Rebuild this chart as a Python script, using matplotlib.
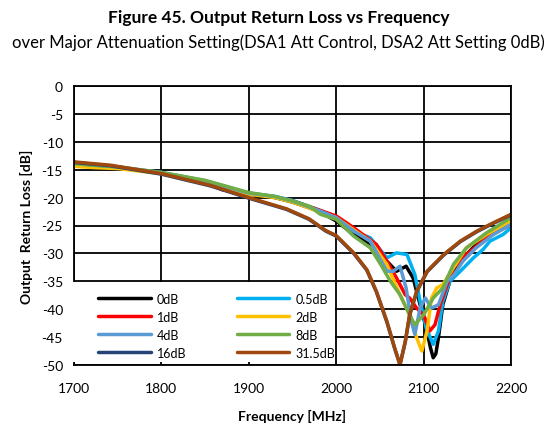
import matplotlib
matplotlib.use("Agg")
import matplotlib.pyplot as plt
from matplotlib.patches import Rectangle

plt.rcParams['font.family'] = ['Lato', 'DejaVu Sans']
plt.rcParams['axes.unicode_minus'] = False

labels = ["0dB", "0.5dB", "1dB", "2dB", "4dB", "8dB", "16dB", "31.5dB"]
colors = ["#000000", "#00B0F0", "#FF0000", "#FFC000", "#5B9BD5", "#70AD47", "#264478", "#9E480E"]

f_0dB = [1700,1720,1750,1800,1850,1870,1885,1900,1930,1950,1980,2000,2020,2044,2058,2069,2080,2088,2096,2103,2108,2111,2114,2117,2122,2130,2138,2149,2164,2183,2200]
v_0dB = [-14.0,-14.3,-14.6,-15.6,-17.2,-18.6,-18.8,-19.4,-20.0,-20.8,-22.4,-24.2,-26.6,-28.7,-31.4,-33.2,-32.3,-34.4,-39.2,-43.4,-47,-48.7,-48,-45.1,-39.2,-35,-32.6,-30.2,-27.8,-26,-24.8]

f_05dB = [1700,1720,1750,1800,1850,1900,1930,1950,1980,2000,2020,2039,2058,2069,2081,2090,2096,2103,2111,2117,2122,2130,2142,2157,2168,2176,2191,2200]
v_05dB = [-13.9,-14.2,-14.6,-15.5,-17.0,-19.2,-19.8,-20.5,-22.2,-23.6,-26,-27.2,-30.8,-29.9,-30.2,-33.8,-38.6,-43.4,-46.3,-43.9,-38.6,-35,-33.2,-30.8,-29.3,-27.8,-26.6,-25.4]

f_1dB = [1700,1720,1750,1800,1850,1900,1930,1950,1980,2000,2005,2020,2046,2058,2069,2079,2084,2092,2100,2107,2113,2119,2127,2134,2149,2172,2200]
v_1dB = [-14.0,-14.3,-14.6,-15.6,-17.1,-19.3,-19.9,-20.6,-22.2,-23.3,-23.8,-25.4,-28.4,-31.4,-34.4,-37.4,-38,-39.8,-41,-43.9,-42.8,-39.2,-35.6,-32.6,-30.2,-27.2,-24.8]

f_2dB = [1700,1720,1750,1800,1850,1900,1930,1950,1980,2000,2020,2039,2058,2073,2084,2092,2098,2104,2109,2115,2122,2134,2149,2172,2200]
v_2dB = [-14.4,-14.6,-14.8,-15.7,-17.2,-19.4,-20.0,-20.8,-22.5,-23.6,-25.8,-27.8,-32,-37.4,-41,-45.1,-47.5,-43.9,-38,-36.2,-35.6,-32.6,-29,-26.6,-24.2]

f_4dB = [1700,1720,1750,1800,1850,1900,1930,1950,1980,2000,2020,2039,2058,2065,2073,2080,2086,2090,2096,2102,2109,2117,2127,2134,2145,2160,2180,2200]
v_4dB = [-13.8,-14.1,-14.5,-15.5,-17.0,-19.2,-19.8,-20.6,-22.3,-23.6,-26,-27.8,-33.2,-33.2,-32.3,-36.2,-42.2,-44.5,-39.8,-38,-39.8,-39.2,-35,-34,-31.4,-29,-26.6,-24.8]

f_8dB = [1700,1720,1750,1800,1850,1900,1930,1950,1970,1982,2000,2020,2039,2051,2062,2073,2082,2090,2100,2111,2122,2134,2149,2172,2200]
v_8dB = [-13.9,-14.2,-14.5,-15.5,-16.9,-19.1,-19.8,-20.6,-21.6,-23.0,-23.9,-26.9,-29,-32,-35,-37.4,-40.4,-42.8,-41,-38,-36.2,-32,-29,-26.3,-23.6]

f_16dB = [1700,1742,1800,1856,1900,1943,1969,1988,2000,2020,2035,2046,2058,2067,2073,2079,2084,2092,2104,2123,2142,2161,2180,2200]
v_16dB = [-13.7,-14.3,-15.8,-17.9,-20.1,-22.1,-23.9,-26.0,-26.9,-30.0,-33.0,-36.9,-42.3,-47.1,-49.9,-45.9,-41.1,-36.9,-33.3,-30.3,-27.9,-26.1,-24.6,-23.1]

f_315dB = [1700,1742,1800,1856,1900,1943,1969,1988,2000,2020,2035,2046,2058,2067,2073,2079,2084,2092,2104,2123,2142,2161,2180,2200]
v_315dB = [-13.6,-14.2,-15.7,-17.8,-20.0,-22.0,-23.8,-25.9,-26.8,-29.9,-32.9,-36.8,-42.2,-47,-50,-45.8,-41,-36.8,-33.2,-30.2,-27.8,-26,-24.5,-23]

series_f = [f_0dB, f_05dB, f_1dB, f_2dB, f_4dB, f_8dB, f_16dB, f_315dB]
series_v = [v_0dB, v_05dB, v_1dB, v_2dB, v_4dB, v_8dB, v_16dB, v_315dB]

x_ticks = [1700, 1800, 1900, 2000, 2100, 2200]
y_ticks = [0, -5, -10, -15, -20, -25, -30, -35, -40, -45, -50]

fig = plt.figure(figsize=(5.57, 4.27), dpi=100)
ax = fig.add_axes([74/557, 61/427, 437/557, 279/427])

handles = []
for f, v, c, lab in zip(series_f, series_v, colors, labels):
    h, = ax.plot(f, v, color=c, lw=2.5, label=lab, solid_joinstyle='round', solid_capstyle='round')
    handles.append(h)

ax.set_xlim(1700, 2200)
ax.set_ylim(-50, 0)
ax.set_xticks(x_ticks)
ax.set_yticks(y_ticks)
ax.grid(True, color='black', lw=1.3)
ax.tick_params(length=0, labelsize=10)
ax.tick_params(axis='x', pad=12)
ax.tick_params(axis='y', pad=8)
for s in ax.spines.values():
    s.set_color('black')
    s.set_linewidth(1.3)

ax.set_xlabel("Frequency [MHz]", fontsize=10, fontweight='bold', labelpad=11)
ax.set_ylabel("Output  Return Loss [dB]", fontsize=10, fontweight='bold', labelpad=6)

ax.add_patch(Rectangle((-0.01, 0.012), 0.607, 0.285, transform=ax.transAxes,
                       facecolor='white', edgecolor='none', zorder=4, clip_on=False))

order = [0, 2, 4, 6, 1, 3, 5, 7]
leg = ax.legend([handles[i] for i in order], [labels[i] for i in order], ncol=2,
                loc='upper left', bbox_to_anchor=(0.03, 0.30), frameon=False,
                fontsize=9, handlelength=4.2, handletextpad=0.5, columnspacing=4.0,
                labelspacing=0.48)
leg.set_zorder(5)

fig.text(0.5, 1 - 18/427, "Figure 45. Output Return Loss vs Frequency", ha='center', va='center',
         fontsize=12.5, fontweight='bold')
fig.text(0.5, 1 - 43/427, "over Major Attenuation Setting(DSA1 Att Control, DSA2 Att Setting 0dB)",
         ha='center', va='center', fontsize=12)

fig.savefig("out.png", dpi=100)
